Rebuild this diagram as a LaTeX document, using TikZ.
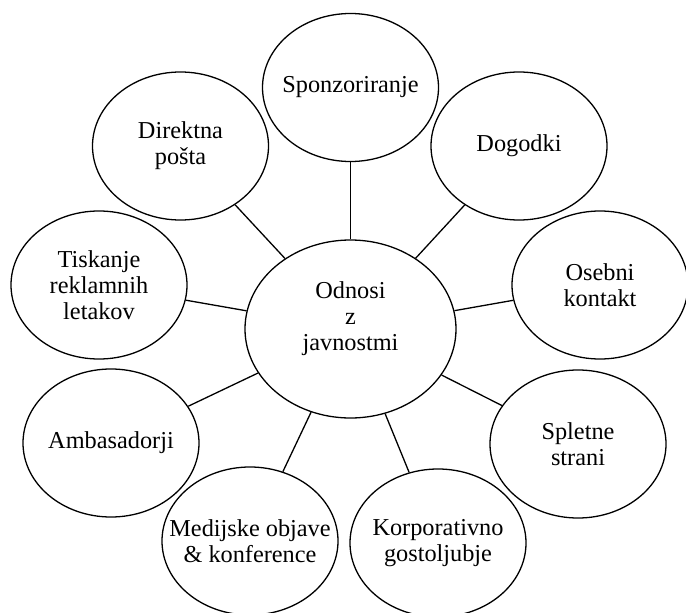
\documentclass[tikz,border=0pt]{standalone}
\usepackage{fontspec}
\setmainfont{Liberation Serif}
\usetikzlibrary{shapes.geometric}
\begin{document}
\begin{tikzpicture}[x=1pt,y=-1pt,
  bub/.style={draw=black, line width=1.3pt, ellipse, inner sep=0pt, minimum width=176pt, minimum height=148pt},
  hub/.style={draw=black, line width=1.3pt, ellipse, inner sep=0pt, minimum width=211pt, minimum height=178pt},
  txt/.style={align=center, font=\fontsize{24.3}{26}\selectfont, inner sep=0pt},
  conn/.style={draw=black, line width=1.3pt}]
\useasboundingbox (0,0) rectangle (686,613);
\node[hub, label={[txt,yshift=10pt]center:Odnosi\\z\\javnostmi}] (c) at (350.5,329) {};
\node[bub, label={[txt]center:Sponzoriranje}] (spo) at (350.5,87.5) {};
\node[bub, label={[txt]center:Dogodki}] (dog) at (519,146) {};
\node[bub, label={[txt]center:Direktna\\pošta}] (dir) at (180.5,146) {};
\node[bub, label={[txt]center:Tiskanje\\reklamnih\\letakov}] (tis) at (99,285) {};
\node[bub, label={[txt]center:Osebni\\kontakt}] (ose) at (600,285) {};
\node[bub, label={[txt]center:Ambasadorji}] (amb) at (111,443) {};
\node[bub, label={[txt]center:Spletne\\strani}] (spl) at (578,444) {};
\node[bub, label={[txt]center:Medijske objave\\\& konference}] (med) at (250,541) {};
\node[bub, label={[txt]center:Korporativno\\gostoljubje}] (kor) at (438,543) {};
\foreach \n in {spo,dog,dir,tis,ose,amb,spl,med,kor}
  \draw[conn] (c) -- (\n);
\end{tikzpicture}
\end{document}
